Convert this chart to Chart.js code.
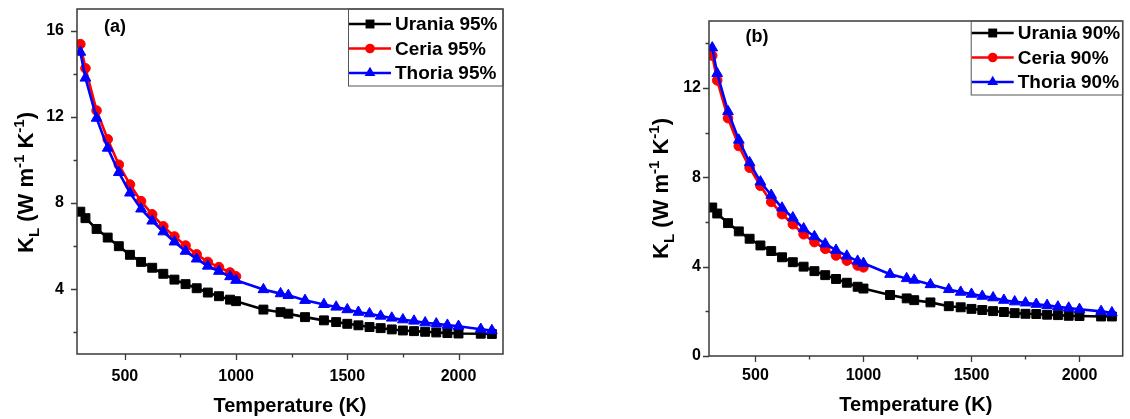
<!DOCTYPE html>
<html>
<head>
<meta charset="utf-8">
<script src="https://cdn.jsdelivr.net/npm/chart.js@4.4.1/dist/chart.umd.min.js"></script>
<style>
  html, body { margin: 0; padding: 0; background: #fff; }
  #wrap { position: relative; width: 1130px; height: 419px; overflow: hidden; }
  .panel { position: absolute; top: 0; width: 565px; height: 419px; }
  canvas { display: block; }
</style>
</head>
<body>
<div id="wrap">
  <div class="panel" style="left:0"><canvas id="ca" width="565" height="419"></canvas></div>
  <div class="panel" style="left:565px"><canvas id="cb" width="565" height="419"></canvas></div>
</div>
<script>
// Temperatures (K): the dense low-temperature run and the high-temperature run
const tempLow  = [300, 323, 373, 423, 473, 523, 573, 623, 673, 723, 773, 823, 873, 923, 973, 1000];
const tempHigh = [1123, 1200, 1235, 1310, 1395, 1450, 1500, 1550, 1600, 1650, 1700, 1750, 1800, 1850, 1900, 1950, 2000, 2100, 2150];

// (a) 95% dense pellets, lattice thermal conductivity K_L (W m^-1 K^-1)
const uraniaLowA  = [7.60, 7.30, 6.80, 6.40, 6.00, 5.60, 5.27, 5.00, 4.72, 4.45, 4.24, 4.05, 3.85, 3.68, 3.52, 3.45];
const uraniaHighA = [3.06, 2.94, 2.87, 2.71, 2.56, 2.48, 2.40, 2.33, 2.25, 2.20, 2.14, 2.09, 2.06, 2.03, 2.00, 1.97, 1.95, 1.94, 1.93];
const ceriaA      = [15.37, 14.25, 12.29, 10.96, 9.78, 8.86, 8.09, 7.48, 6.92, 6.45, 6.03, 5.62, 5.27, 5.03, 4.78, 4.60];
const thoriaLowA  = [15.00, 13.80, 11.94, 10.55, 9.42, 8.47, 7.73, 7.17, 6.67, 6.20, 5.77, 5.41, 5.08, 4.84, 4.59, 4.42];
const thoriaHighA = [3.99, 3.80, 3.72, 3.49, 3.30, 3.18, 3.06, 2.94, 2.87, 2.76, 2.67, 2.59, 2.53, 2.45, 2.40, 2.34, 2.29, 2.15, 2.09];

// (b) 90% dense pellets
const uraniaLowB  = [6.65, 6.38, 5.95, 5.58, 5.25, 4.95, 4.70, 4.42, 4.20, 4.00, 3.80, 3.62, 3.45, 3.28, 3.10, 3.02];
const uraniaHighB = [2.73, 2.58, 2.50, 2.40, 2.23, 2.18, 2.11, 2.06, 2.01, 1.97, 1.92, 1.89, 1.88, 1.85, 1.83, 1.80, 1.79, 1.77, 1.77];
const ceriaB      = [13.45, 12.34, 10.65, 9.40, 8.43, 7.62, 6.90, 6.35, 5.90, 5.45, 5.10, 4.80, 4.50, 4.27, 4.05, 3.97];
const thoriaLowB  = [13.80, 12.65, 10.95, 9.67, 8.66, 7.80, 7.20, 6.63, 6.19, 5.70, 5.35, 5.02, 4.74, 4.48, 4.25, 4.15];
const thoriaHighB = [3.66, 3.47, 3.40, 3.20, 2.98, 2.86, 2.77, 2.68, 2.61, 2.50, 2.43, 2.38, 2.32, 2.27, 2.20, 2.15, 2.09, 2.00, 1.94];

// Series names
const labelsA = ['Urania 95%', 'Ceria 95%', 'Thoria 95%'];
const labelsB = ['Urania 90%', 'Ceria 90%', 'Thoria 90%'];

// Axis ticks (major ones carry a label, the others are minor)
const xTicks = [500, 750, 1000, 1250, 1500, 1750, 2000];
const xLabelled = [500, 1000, 1500, 2000];
const yTicksA = [2, 4, 6, 8, 10, 12, 14, 16];
const yLabelledA = [4, 8, 12, 16];
const yTicksB = [0, 2, 4, 6, 8, 10, 12, 14];
const yLabelledB = [0, 4, 8, 12];

const FONT = "'Liberation Sans', Arial, Helvetica, sans-serif";

function pts(xs, ys) { return xs.map((x, i) => ({ x: x, y: ys[i] })); }

const STYLES = [
  { color: '#000000', pointStyle: 'rect', radius: 6.3, order: 2 },
  { color: '#ff0000', pointStyle: 'circle', radius: 4.8, order: 1 },
  { color: '#0000ff', pointStyle: 'triangle', radius: 6.2, order: 0 }
];

function makeDatasets(labels, series) {
  return series.map((data, i) => ({
    label: labels[i],
    data: data,
    borderColor: STYLES[i].color,
    backgroundColor: STYLES[i].color,
    pointBackgroundColor: STYLES[i].color,
    pointBorderColor: STYLES[i].color,
    pointStyle: STYLES[i].pointStyle,
    pointRadius: STYLES[i].radius,
    pointBorderWidth: 1,
    borderWidth: 2.6,
    tension: 0,
    order: STYLES[i].order
  }));
}

function drawMarker(ctx, style, r, x, y, color) {
  ctx.save();
  ctx.fillStyle = color;
  ctx.beginPath();
  if (style === 'rect') {
    const s = r * Math.SQRT1_2;
    ctx.rect(x - s, y - s, 2 * s, 2 * s);
  } else if (style === 'circle') {
    ctx.arc(x, y, r, 0, Math.PI * 2);
  } else {
    for (let k = 0; k < 3; k++) {
      const a = k * 2 * Math.PI / 3;
      const px = x + Math.sin(a) * r, py = y - Math.cos(a) * r;
      if (k === 0) ctx.moveTo(px, py); else ctx.lineTo(px, py);
    }
  }
  ctx.closePath();
  ctx.fill();
  ctx.restore();
}

// Frame, outward tick marks, axis titles, legend box and panel tag
const panelDecor = {
  id: 'panelDecor',
  afterDraw(chart, args, o) {
    const ctx = chart.ctx;
    const ca = chart.chartArea;
    const xs = chart.scales.x, ys = chart.scales.y;
    ctx.save();

    // tick marks
    ctx.strokeStyle = '#3a3a3a';
    ctx.lineWidth = 1.3;
    ctx.beginPath();
    xTicks.forEach(v => {
      const px = Math.round(xs.getPixelForValue(v)) + 0.5;
      const len = xLabelled.includes(v) ? 6 : 3.5;
      ctx.moveTo(px, ca.bottom); ctx.lineTo(px, ca.bottom + len);
    });
    o.yTicks.forEach(v => {
      const py = Math.round(ys.getPixelForValue(v)) + 0.5;
      const len = o.yLabelled.includes(v) ? 6 : 3.5;
      ctx.moveTo(ca.left, py); ctx.lineTo(ca.left - len, py);
    });
    ctx.stroke();

    // frame
    ctx.lineWidth = 1.5;
    ctx.strokeStyle = '#3a3a3a';
    ctx.strokeRect(ca.left, ca.top, ca.right - ca.left, ca.bottom - ca.top);

    // x title
    ctx.fillStyle = '#000';
    ctx.font = 'bold 20px ' + FONT;
    ctx.textAlign = 'center';
    ctx.textBaseline = 'alphabetic';
    ctx.fillText('Temperature (K)', (ca.left + ca.right) / 2, o.xTitleY);

    // y title with subscript and superscripts
    const parts = [
      { t: 'K', s: 22, dy: 0 },
      { t: 'L', s: 15, dy: 6 },
      { t: ' (W m', s: 22, dy: 0 },
      { t: '-1', s: 15, dy: -9 },
      { t: ' K', s: 22, dy: 0 },
      { t: '-1', s: 15, dy: -9 },
      { t: ')', s: 22, dy: 0 }
    ];
    let total = 0;
    parts.forEach(p => { ctx.font = 'bold ' + p.s + 'px ' + FONT; p.w = ctx.measureText(p.t).width; total += p.w; });
    ctx.save();
    ctx.translate(o.yTitleX, (ca.top + ca.bottom) / 2 + o.yTitleDy);
    ctx.rotate(-Math.PI / 2);
    ctx.textAlign = 'left';
    let cx = -total / 2;
    parts.forEach(p => {
      ctx.font = 'bold ' + p.s + 'px ' + FONT;
      ctx.fillText(p.t, cx, 8 + p.dy);
      cx += p.w;
    });
    ctx.restore();

    // panel tag
    ctx.font = 'bold 18px ' + FONT;
    ctx.textAlign = 'center';
    ctx.textBaseline = 'middle';
    ctx.fillText(o.tag, o.tagX, o.tagY);

    // legend
    const bx = ca.right - o.legW, by = ca.top;
    ctx.lineWidth = 1;
    ctx.strokeStyle = '#555';
    ctx.strokeRect(bx + 0.5, by, o.legW - 0.5, o.legH);
    chart.data.datasets.forEach((ds, i) => {
      const ry = by + o.legRow0 + i * o.legStep;
      ctx.strokeStyle = ds.borderColor;
      ctx.lineWidth = 2.6;
      ctx.beginPath();
      ctx.moveTo(bx + 1, ry); ctx.lineTo(bx + 43, ry);
      ctx.stroke();
      drawMarker(ctx, ds.pointStyle, ds.pointRadius, bx + 22, ry, ds.borderColor);
      ctx.fillStyle = '#000';
      ctx.font = 'bold 19px ' + FONT;
      ctx.textAlign = 'left';
      ctx.textBaseline = 'middle';
      ctx.fillText(ds.label, bx + 47, ry + 1);
    });
    ctx.restore();
  }
};

function makeChart(id, datasets, cfg) {
  const tickFont = { family: FONT, size: 16, weight: 'bold' };
  return new Chart(document.getElementById(id), {
    type: 'line',
    data: { datasets: datasets },
    plugins: [panelDecor],
    options: {
      responsive: false,
      animation: false,
      devicePixelRatio: 1,
      layout: { padding: cfg.padding },
      plugins: {
        legend: { display: false },
        tooltip: { enabled: false },
        panelDecor: cfg.decor
      },
      scales: {
        x: {
          type: 'linear',
          min: 285, max: 2200,
          afterBuildTicks: s => { s.ticks = xTicks.map(v => ({ value: v })); },
          afterFit: s => { s.height = cfg.xHeight; s.paddingLeft = 0; s.paddingRight = 0; },
          grid: { display: false, drawTicks: false },
          border: { display: false },
          ticks: {
            autoSkip: false, maxRotation: 0,
            padding: cfg.xPad,
            color: '#000',
            font: tickFont,
            callback: v => xLabelled.includes(v) ? String(v) : ''
          }
        },
        y: {
          type: 'linear',
          min: cfg.yMin, max: cfg.yMax,
          afterBuildTicks: s => { s.ticks = cfg.decor.yTicks.map(v => ({ value: v })); },
          afterFit: s => { s.width = cfg.yWidth; s.paddingTop = 0; s.paddingBottom = 0; },
          grid: { display: false, drawTicks: false },
          border: { display: false },
          ticks: {
            autoSkip: false,
            padding: cfg.yPad,
            color: '#000',
            font: tickFont,
            callback: v => cfg.decor.yLabelled.includes(v) ? String(v) : ''
          }
        }
      }
    }
  });
}

const datasetsA = makeDatasets(labelsA, [
  pts(tempLow.concat(tempHigh), uraniaLowA.concat(uraniaHighA)),
  pts(tempLow, ceriaA),
  pts(tempLow.concat(tempHigh), thoriaLowA.concat(thoriaHighA))
]);
const datasetsB = makeDatasets(labelsB, [
  pts(tempLow.concat(tempHigh), uraniaLowB.concat(uraniaHighB)),
  pts(tempLow, ceriaB),
  pts(tempLow.concat(tempHigh), thoriaLowB.concat(thoriaHighB))
]);

makeChart('ca', datasetsA, {
  padding: { left: 0, top: 9, right: 62, bottom: 0 },
  xHeight: 65, yWidth: 77, xPad: 13, yPad: 13,
  yMin: 1, yMax: 17,
  decor: {
    yTicks: yTicksA, yLabelled: yLabelledA,
    xTitleY: 412, yTitleX: 25, yTitleDy: 1,
    tag: '(a)', tagX: 115, tagY: 27,
    legW: 155, legH: 77, legRow0: 15, legStep: 24.5
  }
});

makeChart('cb', datasetsB, {
  padding: { left: 0, top: 21, right: 4, bottom: 0 },
  xHeight: 63, yWidth: 144, xPad: 10, yPad: 8,
  yMin: 0, yMax: 15,
  decor: {
    yTicks: yTicksB, yLabelled: yLabelledB,
    xTitleY: 411, yTitleX: 95, yTitleDy: 0,
    tag: '(b)', tagX: 192, tagY: 37,
    legW: 152, legH: 74, legRow0: 12, legStep: 24.5
  }
});
</script>
</body>
</html>
